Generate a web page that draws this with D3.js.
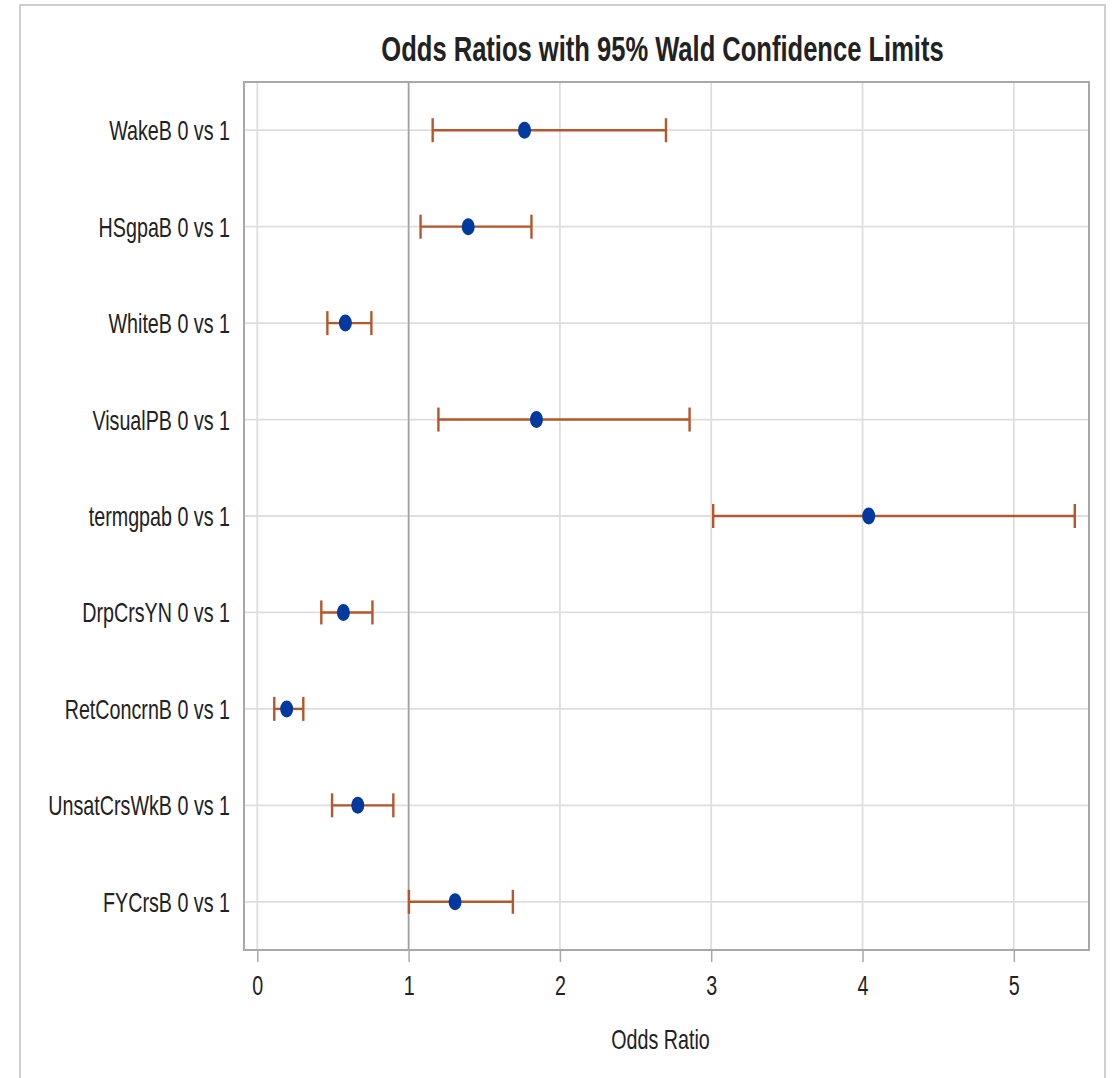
<!DOCTYPE html>
<html>
<head>
<meta charset="utf-8">
<script src="https://cdn.jsdelivr.net/npm/d3@7"></script>
<style>
  body { margin: 0; background: #fff; }
  text { font-family: "Liberation Sans", Arial, sans-serif; fill: #222; }
</style>
</head>
<body>
<div id="chart"></div>
<script>
// effects, top to bottom
const effects = ['WakeB 0 vs 1', 'HSgpaB 0 vs 1', 'WhiteB 0 vs 1', 'VisualPB 0 vs 1',
    'termgpab 0 vs 1', 'DrpCrsYN 0 vs 1', 'RetConcrnB 0 vs 1', 'UnsatCrsWkB 0 vs 1', 'FYCrsB 0 vs 1'];
const oddsRatio = [1.766, 1.394, 0.582, 1.845, 4.041, 0.569, 0.194, 0.664, 1.307];
const lowerCL = [1.159, 1.079, 0.463, 1.197, 3.013, 0.423, 0.112, 0.494, 1.002];
const upperCL = [2.701, 1.812, 0.754, 2.857, 5.403, 0.761, 0.304, 0.899, 1.689];
const xTicks = [0, 1, 2, 3, 4, 5];

const width = 1114, height = 1078;
const plot = { left: 244, right: 1089, top: 82, bottom: 950 };
const sx = 0.73; // the whole picture is narrowed horizontally

const svg = d3.select('#chart').append('svg')
    .attr('width', width)
    .attr('height', height);

// outer frame
svg.append('rect')
    .attr('x', 20).attr('y', 5)
    .attr('width', 1085).attr('height', 1100)
    .attr('fill', 'none')
    .attr('stroke', '#cfcfcf')
    .attr('stroke-width', 2);

const x = d3.scaleLinear().domain([-0.088, 5.497]).range([plot.left, plot.right]);
const y = d3.scalePoint().domain(effects).range([plot.top, plot.bottom]).padding(0.5);

const rows = effects.map((name, i) => ({ name, or: oddsRatio[i], lo: lowerCL[i], hi: upperCL[i] }));

// grid
const grid = svg.append('g');
grid.selectAll('line.v')
    .data(xTicks)
    .join('line')
    .attr('class', 'v')
    .attr('x1', d => x(d)).attr('x2', d => x(d))
    .attr('y1', plot.top).attr('y2', plot.bottom)
    .attr('stroke', '#dedede')
    .attr('stroke-width', 1.8);
grid.selectAll('line.h')
    .data(effects)
    .join('line')
    .attr('class', 'h')
    .attr('x1', plot.left).attr('x2', plot.right)
    .attr('y1', d => y(d)).attr('y2', d => y(d))
    .attr('stroke', '#dedede')
    .attr('stroke-width', 1.8);

// reference line at 1
svg.append('line')
    .attr('x1', x(1)).attr('x2', x(1))
    .attr('y1', plot.top).attr('y2', plot.bottom)
    .attr('stroke', '#a0a0a0')
    .attr('stroke-width', 1.6);

// error bars
const bars = svg.append('g')
    .selectAll('g')
    .data(rows)
    .join('g')
    .attr('stroke', '#b4572c')
    .attr('stroke-width', 2.4);
bars.append('line')
    .attr('x1', d => x(d.lo)).attr('x2', d => x(d.hi))
    .attr('y1', d => y(d.name)).attr('y2', d => y(d.name));
bars.append('line')
    .attr('x1', d => x(d.lo)).attr('x2', d => x(d.lo))
    .attr('y1', d => y(d.name) - 12).attr('y2', d => y(d.name) + 12);
bars.append('line')
    .attr('x1', d => x(d.hi)).attr('x2', d => x(d.hi))
    .attr('y1', d => y(d.name) - 12).attr('y2', d => y(d.name) + 12);

// point estimates
svg.append('g')
    .selectAll('ellipse')
    .data(rows)
    .join('ellipse')
    .attr('cx', d => x(d.or))
    .attr('cy', d => y(d.name))
    .attr('rx', 6.5)
    .attr('ry', 8.5)
    .attr('fill', '#003a9f');

// plot frame
svg.append('rect')
    .attr('x', plot.left).attr('y', plot.top)
    .attr('width', plot.right - plot.left).attr('height', plot.bottom - plot.top)
    .attr('fill', 'none')
    .attr('stroke', '#a8a8a8')
    .attr('stroke-width', 2);

// x axis
const xAxis = svg.append('g')
    .attr('transform', `translate(0,${plot.bottom})`)
    .call(d3.axisBottom(x).tickValues(xTicks).tickFormat(d3.format('d')).tickSize(12).tickPadding(14));
xAxis.select('.domain').remove();
xAxis.selectAll('.tick line').attr('stroke', '#a8a8a8').attr('stroke-width', 1.5);
xAxis.selectAll('.tick text')
    .attr('font-size', 27)
    .attr('fill', '#222')
    .attr('transform', `scale(${sx},1)`);

// y axis labels
const yAxis = svg.append('g')
    .attr('transform', `translate(${plot.left},0)`)
    .call(d3.axisLeft(y).tickSize(0));
yAxis.select('.domain').remove();
yAxis.selectAll('.tick text')
    .attr('font-size', 27)
    .attr('fill', '#222')
    .attr('x', -14 / sx)
    .attr('dy', '0.35em')
    .attr('transform', `scale(${sx},1)`);

// axis title
svg.append('text')
    .attr('transform', `translate(${(plot.left + plot.right) / 2 - 6},1049) scale(${sx},1)`)
    .attr('text-anchor', 'middle')
    .attr('font-size', 27)
    .text('Odds Ratio');

// title
svg.append('text')
    .attr('transform', `translate(${(plot.left + plot.right) / 2 - 4},61) scale(${sx},1)`)
    .attr('text-anchor', 'middle')
    .attr('font-size', 35)
    .attr('font-weight', 'bold')
    .attr('fill', '#111')
    .text('Odds Ratios with 95% Wald Confidence Limits');
</script>
</body>
</html>
